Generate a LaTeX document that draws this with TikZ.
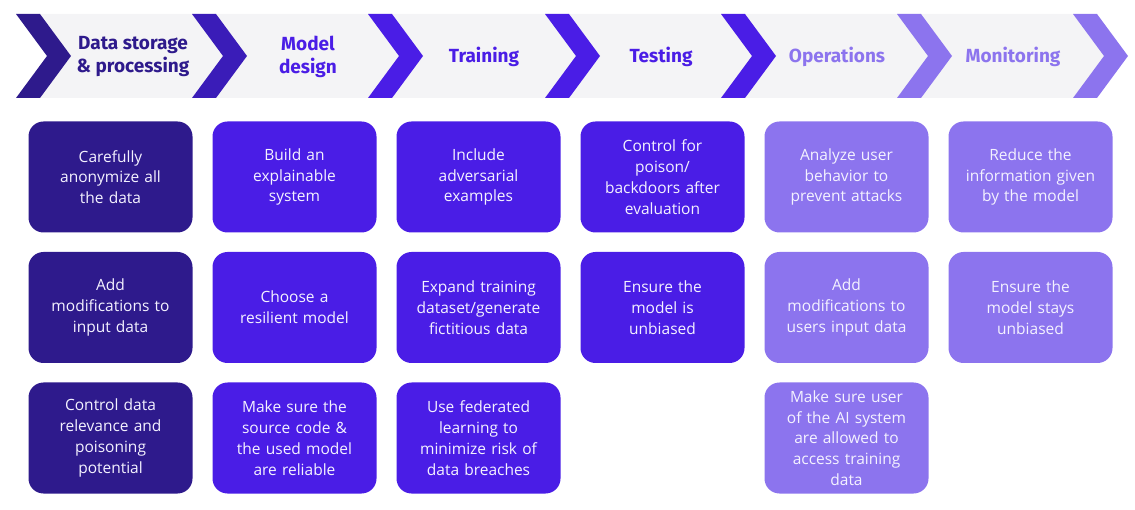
\documentclass[tikz,border=0pt]{standalone}
\usepackage{fontspec}
\setmainfont{Open Sans}
\newfontfamily\headfont{Fira Sans}
\usepackage{tikz}
\usetikzlibrary{positioning}
\definecolor{stagedark}{HTML}{2E1A8C}
\definecolor{stagemid}{HTML}{3A1CB8}
\definecolor{stagebright}{HTML}{4A1DE6}
\definecolor{stagelight}{HTML}{8C74EE}
\definecolor{bandgrey}{HTML}{F4F4F6}
\definecolor{boxtext}{HTML}{F4F2FF}
\tikzset{
    stagetitle/.style ={align=center, font=\headfont\bfseries\fontsize{19}{23}\selectfont, inner sep=0pt},
    measure/.style ={rounded corners=15pt, minimum width=164pt, minimum height=111pt,
        text width=156pt, align=center, inner sep=4pt, outer sep=0pt,
        text=boxtext, font=\fontsize{15.5}{20.8}\selectfont}
}

\begin{document}
\begin{tikzpicture}[x=1pt, y=-1pt, node distance=19.5pt and 20pt]
\useasboundingbox (0,0) rectangle (1135,510);

% Band and chevrons
\fill[bandgrey] (40,14) -- (1073,14) -- (1104,56) -- (1073,98) -- (40,98) -- (71,56) -- cycle;
\fill[stagedark]   (16,14)   -- ++(24,0) -- ++(31,42) -- ++(-31,42) -- ++(-24,0) -- ++(31,-42) -- cycle;
\fill[stagemid]    (192,14)  -- ++(24,0) -- ++(31,42) -- ++(-31,42) -- ++(-24,0) -- ++(31,-42) -- cycle;
\fill[stagebright] (368,14)  -- ++(24,0) -- ++(31,42) -- ++(-31,42) -- ++(-24,0) -- ++(31,-42) -- cycle;
\fill[stagebright] (545,14)  -- ++(24,0) -- ++(31,42) -- ++(-31,42) -- ++(-24,0) -- ++(31,-42) -- cycle;
\fill[stagebright] (721,14)  -- ++(24,0) -- ++(31,42) -- ++(-31,42) -- ++(-24,0) -- ++(31,-42) -- cycle;
\fill[stagelight]  (897,14)  -- ++(24,0) -- ++(31,42) -- ++(-31,42) -- ++(-24,0) -- ++(31,-42) -- cycle;
\fill[stagelight]  (1073,14) -- ++(24,0) -- ++(31,42) -- ++(-31,42) -- ++(-24,0) -- ++(31,-42) -- cycle;

% Stage titles
\node[stagetitle, text=stagedark]   (data)  at (133,57)  {Data storage\\\& processing};
\node[stagetitle, text=stagebright] (model) at (308,57)  {Model\\design};
\node[stagetitle, text=stagebright] (train) at (484,57)  {Training};
\node[stagetitle, text=stagebright] (test)  at (661,57)  {Testing};
\node[stagetitle, text=stagelight]  (oper)  at (837,57)  {Operations};
\node[stagetitle, text=stagelight]  (moni)  at (1013,57) {Monitoring};

% Measures, first row
\node[measure, fill=stagedark] (data1) at (110.5,177) {Carefully\\anonymize all\\the data};
\node[measure, fill=stagebright, right=of data1] (model1) {Build an\\explainable\\system};
\node[measure, fill=stagebright, right=of model1] (train1) {Include\\adversarial\\examples};
\node[measure, fill=stagebright, right=of train1] (test1) {Control for\\poison/\\backdoors after\\evaluation};
\node[measure, fill=stagelight, right=of test1] (oper1) {Analyze user\\behavior to\\prevent attacks};
\node[measure, fill=stagelight, right=of oper1] (moni1) {Reduce the\\information given\\by the model};

% Second row
\node[measure, fill=stagedark, below=of data1] (data2) {Add\\modifications to\\input data};
\node[measure, fill=stagebright, below=of model1] (model2) {Choose a\\resilient model};
\node[measure, fill=stagebright, below=of train1] (train2) {Expand training\\dataset/generate\\fictitious data};
\node[measure, fill=stagebright, below=of test1] (test2) {Ensure the\\model is\\unbiased};
\node[measure, fill=stagelight, below=of oper1] (oper2) {Add\\modifications to\\users input data};
\node[measure, fill=stagelight, below=of moni1] (moni2) {Ensure the\\model stays\\unbiased};

% Third row
\node[measure, fill=stagedark, below=of data2] (data3) {Control data\\relevance and\\poisoning\\potential};
\node[measure, fill=stagebright, below=of model2] (model3) {Make sure the\\source code \&\\the used model\\are reliable};
\node[measure, fill=stagebright, below=of train2] (train3) {Use federated\\learning to\\minimize risk of\\data breaches};
\node[measure, fill=stagelight, below=of oper2] (oper3) {Make sure user\\of the AI system\\are allowed to\\access training\\data};
\end{tikzpicture}
\end{document}
